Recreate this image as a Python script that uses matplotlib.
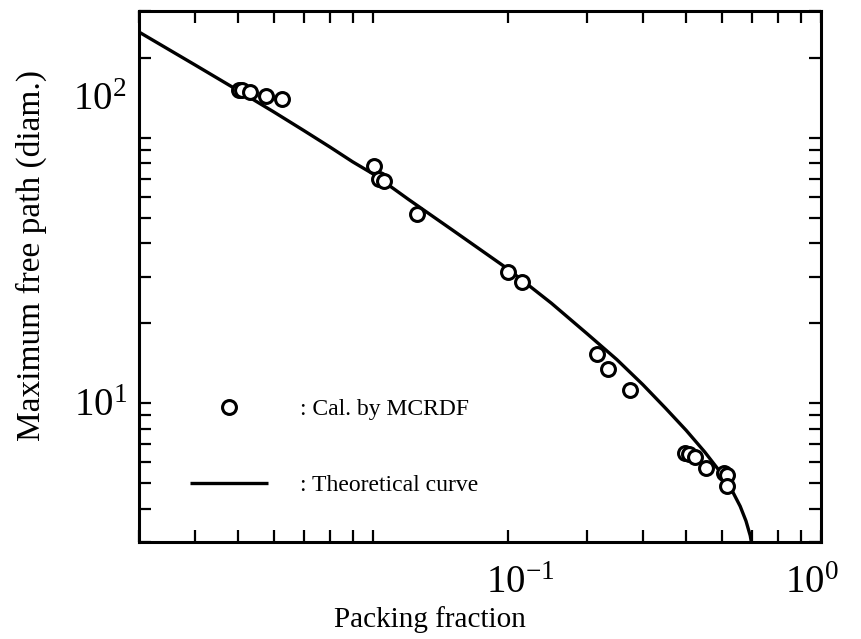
import numpy as np
import matplotlib.pyplot as plt
from matplotlib.ticker import NullFormatter, LogLocator

plt.rcParams['font.family'] = ['Liberation Serif', 'DejaVu Serif']
plt.rcParams['mathtext.fontset'] = 'custom'
plt.rcParams['mathtext.rm'] = 'Liberation Serif'
plt.rcParams['mathtext.it'] = 'Liberation Serif:italic'

# Puntos calculados (MCRDF)
frac_cal = [0.0501, 0.0509, 0.0530, 0.0576, 0.0626,
            0.1005, 0.1028, 0.1058, 0.1254,
            0.200, 0.215, 0.316, 0.334, 0.375,
            0.497, 0.506, 0.523, 0.554, 0.608, 0.616, 0.618]
camino_cal = [151.4, 151.0, 149.0, 143.0, 140.0,
              78.4, 69.9, 68.9, 51.7,
              31.2, 28.6, 15.3, 13.5, 11.2,
              6.50, 6.44, 6.27, 5.70, 5.46, 5.38, 4.86]

# Curva teorica
frac_teo = [0.030, 0.040, 0.050, 0.060, 0.070, 0.080, 0.090, 0.100,
            0.120, 0.150, 0.200, 0.250, 0.300, 0.350, 0.400, 0.450,
            0.500, 0.550, 0.600, 0.630, 0.660, 0.680, 0.695, 0.700]
camino_teo = [250.0, 188.0, 150.4, 125.0, 106.4, 92.3, 81.1, 73.0,
              58.5, 45.0, 32.0, 23.8, 18.3, 14.6, 11.75, 9.56,
              7.90, 6.55, 5.42, 4.76, 4.09, 3.60, 3.17, 2.96]

fig = plt.figure(figsize=(8.61, 6.39), dpi=100)
ax = fig.add_axes([139 / 861, 97 / 639, 682 / 861, 531 / 639])

ax.set_xscale('log')
ax.set_yscale('log')

ax.plot(frac_teo, camino_teo, color='black', lw=2.4, solid_capstyle='butt',
        label=': Theoretical curve')
ax.plot(frac_cal, camino_cal, ls='none', marker='o', ms=10, mfc='white',
        mec='black', mew=2.2, label=': Cal. by MCRDF')

ax.set_xlim(0.03, 1.0)
ax.set_ylim(3, 300)

# Ticks hacia dentro en los cuatro lados
for eje in (ax.xaxis, ax.yaxis):
    eje.set_minor_locator(LogLocator(base=10, subs=np.arange(2, 10)))
    eje.set_minor_formatter(NullFormatter())
ax.tick_params(which='both', direction='in', length=8.5, width=1.6,
               top=True, right=True)
ax.set_xticks([0.1, 1.0])
ax.set_xticklabels([])
ax.set_yticks([10, 100])
ax.set_yticklabels([])
for s in ax.spines.values():
    s.set_linewidth(2.2)

# Etiquetas de los ejes colocadas como en el original
ax.text(0.559, -0.044, '$10^{-1}$', transform=ax.transAxes, ha='center',
        va='top', fontsize=28)
ax.text(0.987, -0.044, '$10^{0}$', transform=ax.transAxes, ha='center',
        va='top', fontsize=28)
ax.text(-0.018, (542 - 101) / 531, '$10^{2}$', transform=ax.transAxes,
        ha='right', va='center', fontsize=28)
ax.text(-0.018, (542 - 406) / 531, '$10^{1}$', transform=ax.transAxes,
        ha='right', va='center', fontsize=28)

ax.set_xlabel('Packing fraction', fontsize=21)
ax.xaxis.set_label_coords(0.427, -0.12)
ax.set_ylabel('Maximum free path (diam.)', fontsize=24)
ax.yaxis.set_label_coords(-0.135, 0.54)

h, l = ax.get_legend_handles_labels()
ax.legend(h[::-1], l[::-1], loc='center left', bbox_to_anchor=(0.0748, 0.178),
          frameon=False, fontsize=17, handlelength=3.3, handletextpad=1.35,
          labelspacing=2.3, borderpad=0, borderaxespad=0)

fig.savefig('out.png', dpi=100)
